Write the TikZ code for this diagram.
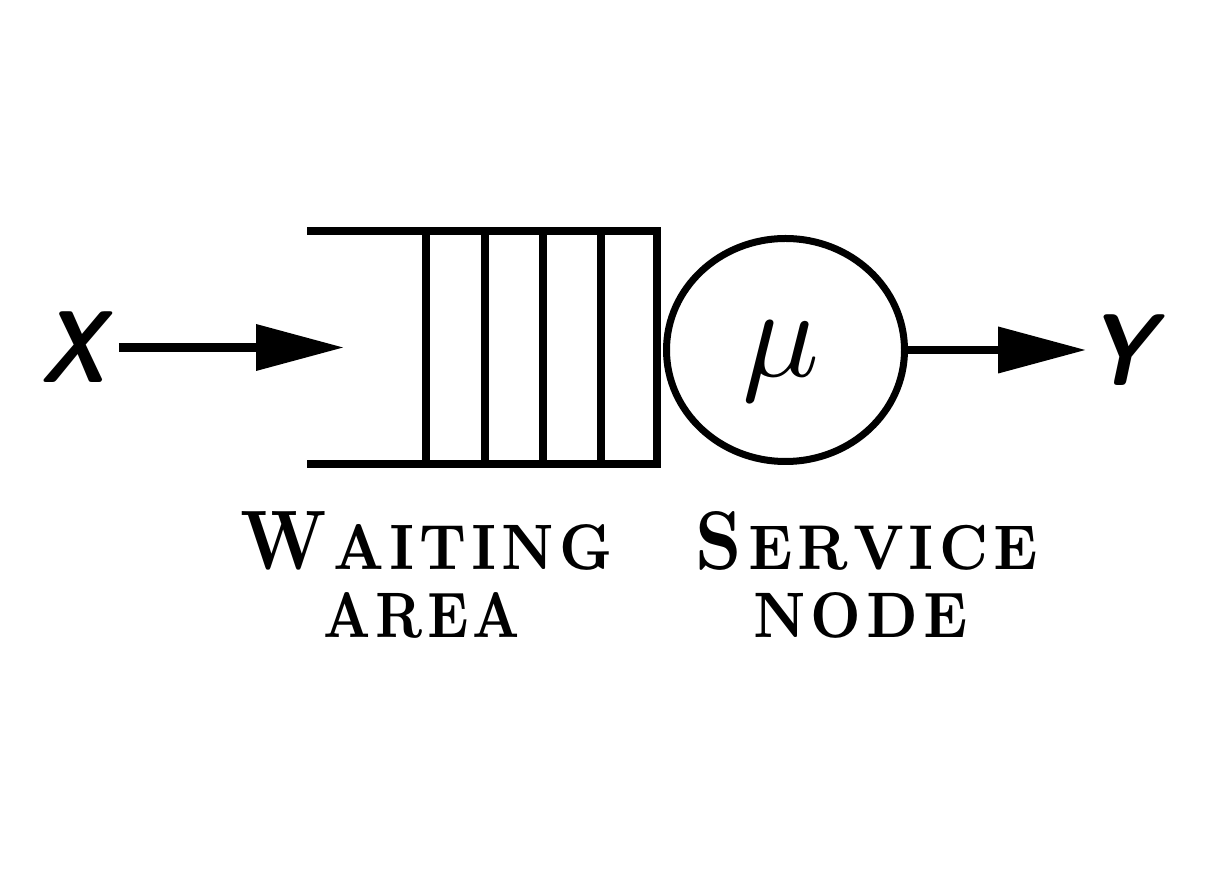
\documentclass[tikz,border=0pt]{standalone}
\usepackage{fontspec}
\usepackage{graphicx}
\usetikzlibrary{arrows.meta,shapes.geometric}
\newfontfamily\varsf{lmsansdemicond10-oblique.otf}
\newcommand{\lgap}{\kern0.09em}
\newcommand{\labfont}{\bfseries}
\tikzset{
  queueline/.style={line width=4pt,line join=miter},
  arr/.style={line width=4.2pt,-{Triangle[length=43.5pt,width=23.5pt,line width=0pt]}},
  var/.style={font=\fontsize{51}{51}\selectfont\varsf, inner ysep=0pt},
  lab/.style={anchor=base west, inner sep=0pt},
  srvnode/.style={draw, ellipse, line width=3.5pt, minimum width=119pt, minimum height=111.5pt, inner sep=0pt},
}
\begin{document}
\begin{tikzpicture}[x=0.5pt,y=-0.5pt]
\useasboundingbox (0,0) rectangle (1210,870);
% queue
\draw[queueline] (307,231) -- (657,231) -- (657,464) -- (307,464);
\foreach \xx in {426,485,543,601}
  \draw[queueline] (\xx,231) -- (\xx,464);
% service node
\node[srvnode] (srv) at (785.5,350) {};
\node[inner sep=0pt] (mu) at (781.5,361) {\scalebox{6.4}{$\mu$}};
% input / output
\node[var, inner xsep=6.75pt] (X) at (72.5,347.5) {X};
\coordinate (qin) at (343,347.5);
\node[var, inner xsep=1pt] (Y) at (1120,350) {Y};
\draw[arr] (X) -- (qin);
\draw[arr] (srv) -- (Y);
% labels
\node[lab] (wait) at (240,570) {\resizebox{186pt}{29pt}{\labfont W\lgap\fontsize{7.6}{9}\selectfont A\lgap I\lgap T\lgap I\lgap N\lgap G}};
\node[lab] (area) at (323,638) {\resizebox{98.5pt}{22.5pt}{\labfont\fontsize{7.6}{9}\selectfont A\lgap R\lgap E\lgap A}};
\node[lab] (serv) at (695,570) {\resizebox{171pt}{29pt}{\labfont S\lgap\fontsize{7.6}{9}\selectfont E\lgap R\lgap V\lgap I\lgap C\lgap E}};
\node[lab] (nodel) at (753,638) {\resizebox{107pt}{22.5pt}{\labfont\fontsize{7.6}{9}\selectfont N\lgap O\lgap D\lgap E}};
\end{tikzpicture}
\end{document}
